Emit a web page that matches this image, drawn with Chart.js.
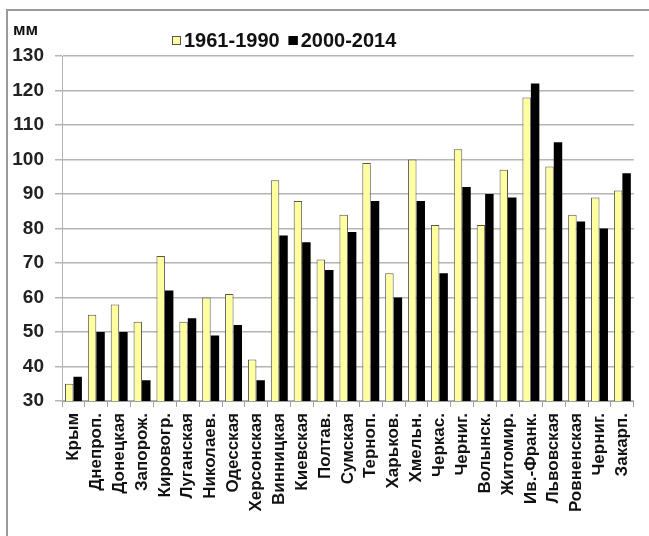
<!DOCTYPE html>
<html>
<head>
<meta charset="utf-8">
<script src="https://cdn.jsdelivr.net/npm/chart.js@4"></script>
<style>
  html, body { margin: 0; padding: 0; background: #ffffff; }
  #wrap { position: absolute; left: 0; top: 0; width: 649px; height: 536px; }
</style>
</head>
<body>
<div id="wrap"><canvas id="c" width="649" height="536"></canvas></div>
<script>
const categories = ["Крым","Днепроп.","Донецкая","Запорож.","Кировогр.","Луганская","Николаев.","Одесская","Херсонская","Винницкая","Киевская","Полтав.","Сумская","Терноп.","Харьков.","Хмельн.","Черкас.","Черниг.","Волынск.","Житомир.","Ив.-Франк.","Львовская","Ровненская","Черниг.","Закарп."];
const series1961 = [35,55,58,53,72,53,60,61,42,94,88,71,84,99,67,100,81,103,81,97,118,98,84,89,91];
const series2000 = [37,50,50,36,62,54,49,52,36,78,76,68,79,88,60,88,67,92,90,89,122,105,82,80,96];
const seriesLabels = ["1961-1990","2000-2014"];
const yTicks = [30,40,50,60,70,80,90,100,110,120,130];
const unitLabel = "мм";

const FONT = "'Liberation Sans', Arial, sans-serif";

const decor = {
  id: 'decor',
  afterDraw(chart) {
    const ctx = chart.ctx;
    ctx.save();
    // frame
    ctx.strokeStyle = '#9a9a9a';
    ctx.lineWidth = 2;
    ctx.beginPath();
    ctx.moveTo(7, 536);
    ctx.lineTo(7, 10);
    ctx.lineTo(649, 10);
    ctx.stroke();
    // unit label
    ctx.fillStyle = '#111';
    ctx.font = 'bold 17px ' + FONT;
    ctx.textBaseline = 'alphabetic';
    ctx.textAlign = 'left';
    ctx.fillText(unitLabel, 13, 35);
    // legend
    ctx.font = 'bold 20px ' + FONT;
    let x = 172;
    chart.data.datasets.forEach((ds, i) => {
      ctx.fillStyle = ds.backgroundColor;
      ctx.fillRect(x, 36, 9, 9);
      ctx.strokeStyle = ds.borderColor;
      ctx.lineWidth = 1;
      ctx.strokeRect(x + 0.5, 36.5, 8, 8);
      ctx.fillStyle = '#111';
      ctx.fillText(ds.label, x + 12, 47);
      x += 12 + ctx.measureText(ds.label).width + 9;
    });
    ctx.restore();
  }
};

new Chart(document.getElementById('c'), {
  type: 'bar',
  data: {
    labels: categories,
    datasets: [
      { label: seriesLabels[0], data: series1961, backgroundColor: '#ffffa0', borderColor: '#555555', borderWidth: 1 },
      { label: seriesLabels[1], data: series2000, backgroundColor: '#000000', borderColor: '#000000', borderWidth: 0 }
    ]
  },
  options: {
    responsive: false,
    animation: false,
    devicePixelRatio: 1,
    layout: { padding: { left: 0, right: 11, top: 56, bottom: 0 } },
    plugins: { legend: { display: false }, tooltip: { enabled: false } },
    datasets: { bar: { categoryPercentage: 0.74, barPercentage: 1.0 } },
    scales: {
      x: {
        afterFit(s) { s.height = 135; },
        grid: { drawOnChartArea: false, drawTicks: true, tickLength: 6, color: '#a0a0a0', offset: true },
        border: { color: '#a0a0a0', width: 1 },
        ticks: {
          minRotation: 90, maxRotation: 90, autoSkip: false, padding: 6,
          color: '#111', font: { family: FONT, size: 17, weight: 'bold' }
        }
      },
      y: {
        min: 30, max: 130,
        afterFit(s) { s.width = 62; },
        afterBuildTicks(s) { s.ticks = yTicks.map(v => ({ value: v })); },
        grid: { color: '#b4b4b4', lineWidth: 1.5, tickLength: 7 },
        border: { color: '#b4b4b4', width: 1 },
        ticks: { padding: 11, color: '#222', font: { family: FONT, size: 19, weight: 'bold' } }
      }
    }
  },
  plugins: [decor]
});
</script>
</body>
</html>
